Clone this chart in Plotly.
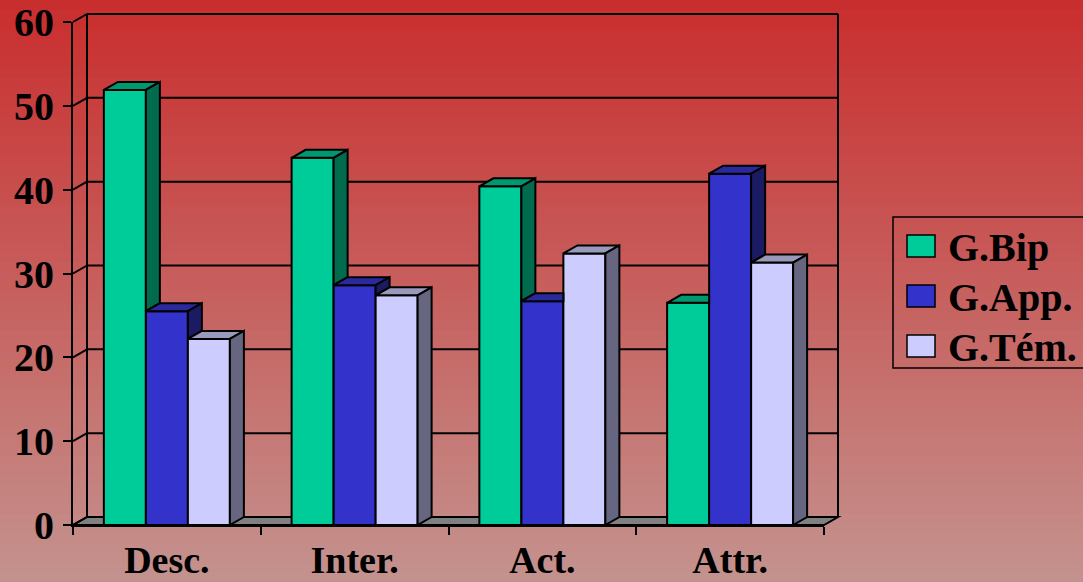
import plotly.graph_objects as go

# ---------------- data ----------------
categories = ["Desc.", "Inter.", "Act.", "Attr."]
series_names = ["G.Bip", "G.App.", "G.Tém."]
g_bip = [51.9, 43.8, 40.4, 26.5]
g_app = [25.5, 28.6, 26.7, 41.9]
g_tem = [22.2, 27.4, 32.4, 31.3]
y_ticks = [0, 10, 20, 30, 40, 50, 60]

series_values = [g_bip, g_app, g_tem]
front_colors = ["#00CC99", "#3333CC", "#CCCCFF"]
top_colors = ["#00996F", "#2A2A9E", "#9999BB"]
side_colors = ["#006B4D", "#1B1B63", "#666680"]

# ---------------- layout geometry (pixels) ----------------
W, H = 1083, 582
FX0, FX1 = 73, 824      # front plane left/right
FY0, FY1 = 525, 22      # front plane y of 0 and of max tick
DXP, DYP = 14, 8        # depth offset of the pseudo-3D box
n = len(categories)
ymax = y_ticks[-1]

def xd(px):
    return -0.5 + (px - FX0) * n / (FX1 - FX0)

def yd(py):
    return (FY0 - py) * ymax / (FY0 - FY1)

dx = DXP * n / (FX1 - FX0)
dy = DYP * ymax / (FY0 - FY1)
bw = 42 * n / (FX1 - FX0)          # width of one bar in category units
PAD = 5
bx0, bx1 = FX0 - PAD, FX1 + DXP + PAD
by0, by1 = FY0 + PAD, FY1 - DYP - PAD

YFONT = dict(family="Liberation Serif", size=40, color="black", weight="bold")
XFONT = dict(family="Liberation Serif", size=38, color="black", weight="bold")
LFONT = dict(family="Liberation Serif", size=40, color="black", weight="bold")

fig = go.Figure()

# ---------------- bar fronts (box subplot x/y) ----------------
xpos = list(range(n))
for s, vals in enumerate(series_values):
    fig.add_trace(go.Bar(
        x=xpos, y=vals, width=bw, offset=(s - 1.5) * bw,
        marker=dict(color=front_colors[s], line=dict(color="black", width=2)),
        name=series_names[s], showlegend=False,
        xaxis="x", yaxis="y", hoverinfo="name+y",
    ))

# ---------------- top and side faces (front subplot x2/y2) ----------------
def poly(pts, color):
    xs = [p[0] for p in pts] + [pts[0][0]]
    ys = [p[1] for p in pts] + [pts[0][1]]
    fig.add_trace(go.Scatter(
        x=xs, y=ys, mode="lines", fill="toself", fillcolor=color,
        line=dict(color="black", width=2), showlegend=False,
        hoverinfo="skip", xaxis="x2", yaxis="y2",
    ))

ns = len(series_values)
for c in range(n):
    for s in range(ns):
        h = series_values[s][c]
        xl = c + (s - 1.5) * bw
        xr = xl + bw
        hn = series_values[s + 1][c] if s < ns - 1 else None
        if hn is not None and h < hn:
            poly([(xl, h), (xl + dx, h + dy), (xr, h + dy), (xr, h)], top_colors[s])
        else:
            poly([(xl, h), (xl + dx, h + dy), (xr + dx, h + dy), (xr, h)], top_colors[s])
        if hn is None:
            poly([(xr, 0), (xr + dx, dy), (xr + dx, h + dy), (xr, h)], side_colors[s])
        elif h > hn:
            poly([(xr, hn), (xr + dx, hn + dy), (xr + dx, h + dy), (xr, h)], side_colors[s])

# ---------------- background gradient ----------------
shapes = []
top_rgb = (201, 46, 46)
bot_rgb = (196, 146, 142)
NS = 60
for i in range(NS):
    t = i / (NS - 1)
    col = tuple(round(top_rgb[k] + (bot_rgb[k] - top_rgb[k]) * t) for k in range(3))
    y1 = 1 - i / NS
    y0 = 1 - (i + 1) / NS - 0.002
    shapes.append(dict(type="rect", xref="paper", yref="paper", x0=0, x1=1,
                       y0=max(y0, 0), y1=y1, fillcolor="rgb(%d,%d,%d)" % col,
                       line=dict(width=0), layer="below"))

# ---------------- box: floor, back wall, gridlines ----------------
xa, xb = -0.5, n - 0.5
line_k = dict(color="black", width=2)
shapes.append(dict(type="path", xref="x", yref="y", layer="below",
                   path="M %f,0 L %f,0 L %f,%f L %f,%f Z" % (xa, xb, xb + dx, dy, xa + dx, dy),
                   fillcolor="#808080", line=line_k))
for v in y_ticks[1:]:
    shapes.append(dict(type="line", xref="x", yref="y", layer="below",
                       x0=xa + dx, x1=xb + dx, y0=v + dy, y1=v + dy, line=line_k))
for v in y_ticks:
    shapes.append(dict(type="line", xref="x", yref="y", layer="below",
                       x0=xa, x1=xa + dx, y0=v, y1=v + dy, line=line_k))
shapes.append(dict(type="line", xref="x", yref="y", layer="below",
                   x0=xa + dx, x1=xa + dx, y0=dy, y1=ymax + dy, line=line_k))
shapes.append(dict(type="line", xref="x", yref="y", layer="below",
                   x0=xb + dx, x1=xb + dx, y0=dy, y1=ymax + dy, line=line_k))

# ---------------- legend (drawn) ----------------
LX0, LY0, LY1 = 893, 217, 368
shapes.append(dict(type="rect", xref="paper", yref="paper",
                   x0=LX0 / W, x1=(W + 10) / W, y0=1 - LY1 / H, y1=1 - LY0 / H,
                   line=dict(color="black", width=1.5), fillcolor="rgba(0,0,0,0)"))
annotations = []
row_y = [246, 296, 346]
for s, name in enumerate(series_names):
    cy = row_y[s]
    shapes.append(dict(type="rect", xref="paper", yref="paper",
                       x0=907 / W, x1=935 / W, y0=1 - (cy + 11) / H, y1=1 - (cy - 11) / H,
                       fillcolor=front_colors[s], line=dict(color="black", width=1.5)))
    annotations.append(dict(xref="paper", yref="paper", x=946 / W, y=1 - (cy + 1) / H,
                            xanchor="left", yanchor="middle", text=name, showarrow=False,
                            font=LFONT))

fig.update_layout(
    width=W, height=H,
    margin=dict(l=0, r=0, t=0, b=0, autoexpand=False),
    paper_bgcolor="rgb(201,46,46)",
    plot_bgcolor="rgba(0,0,0,0)",
    barmode="overlay",
    showlegend=False,
    shapes=shapes,
    annotations=annotations,
    # box subplot (extended area, invisible axes)
    xaxis=dict(domain=[bx0 / W, bx1 / W], range=[xd(bx0), xd(bx1)], anchor="y",
               visible=False, showgrid=False, zeroline=False, automargin=False),
    yaxis=dict(domain=[1 - by0 / H, 1 - by1 / H], range=[yd(by0), yd(by1)], anchor="x",
               visible=False, showgrid=False, zeroline=False, automargin=False),
    # front plane subplot with the visible axes
    xaxis2=dict(domain=[FX0 / W, FX1 / W], range=[xa, xb], anchor="y2",
                tickvals=xpos, ticktext=categories, ticks="",
                minor=dict(tickvals=[i - 0.5 for i in range(n + 1)], ticks="outside",
                           ticklen=8, tickwidth=2, tickcolor="black", showgrid=False),
                showline=True, linecolor="black", linewidth=2, automargin=False,
                showgrid=False, zeroline=False, tickfont=XFONT, ticklabelstandoff=0),
    yaxis2=dict(domain=[1 - FY0 / H, 1 - FY1 / H], range=[0, ymax], anchor="x2",
                tickvals=y_ticks, ticks="outside", ticklen=8, tickwidth=2, tickcolor="black",
                showline=True, linecolor="black", linewidth=2, automargin=False,
                showgrid=False, zeroline=False, tickfont=YFONT, ticklabelstandoff=1),
)

fig.write_html("out.html")
